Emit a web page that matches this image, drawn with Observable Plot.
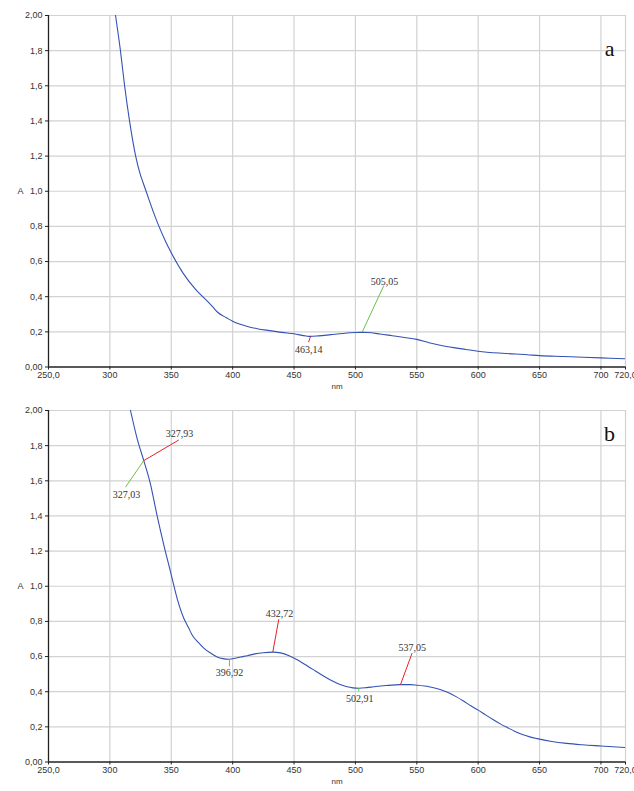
<!DOCTYPE html>
<html><head><meta charset="utf-8">
<script src="https://cdn.jsdelivr.net/npm/d3@7"></script>
<script src="https://cdn.jsdelivr.net/npm/@observablehq/plot@0.6"></script>
<style>body{margin:0;background:#fff;overflow:hidden} #chart svg{display:block}</style>
</head><body><div id="chart"></div>
<script>
// Tick values and labels
const xTicks = [250, 300, 350, 400, 450, 500, 550, 600, 650, 700, 720];
const xTickLabels = ["250,0", "300", "350", "400", "450", "500", "550", "600", "650", "700", "720,0"];
const yTicks = [0, 0.2, 0.4, 0.6, 0.8, 1.0, 1.2, 1.4, 1.6, 1.8, 2.0];
const yTickLabels = ["0,00", "0,2", "0,4", "0,6", "0,8", "1,0", "1,2", "1,4", "1,6", "1,8", "2,00"];

// Panel a spectrum
const aNm = [304.6, 308.6, 312, 316, 321, 325, 327, 330, 335, 340, 345, 350, 360, 370, 380, 384, 388, 395, 400, 410, 420, 430, 440, 450, 460, 463, 470, 480, 490, 500, 505, 510, 520, 530, 540, 550, 560, 570, 580, 590, 600, 620, 640, 650, 670, 700, 720];
const aA  = [2.00, 1.80, 1.60, 1.40, 1.20, 1.09, 1.05, 0.99, 0.89, 0.80, 0.72, 0.65, 0.53, 0.44, 0.37, 0.34, 0.31, 0.28, 0.26, 0.235, 0.218, 0.207, 0.197, 0.189, 0.176, 0.174, 0.177, 0.184, 0.191, 0.196, 0.197, 0.196, 0.188, 0.178, 0.168, 0.157, 0.138, 0.122, 0.11, 0.10, 0.09, 0.078, 0.07, 0.065, 0.06, 0.052, 0.047];

// Panel b spectrum
const bNm = [316.8, 322.2, 327.6, 333, 338.5, 344, 349.4, 354.8, 360.2, 364, 367, 372, 376.5, 382, 387.4, 392, 397, 402, 406.4, 412, 418, 425, 432.7, 439, 446, 452.6, 460, 466, 473, 479.7, 487, 493.3, 498, 502.8, 509, 515, 525, 536.7, 545, 550, 560, 569, 575, 582, 588, 594, 600, 606, 612, 618, 624, 630, 636, 642, 648, 660, 672, 685, 700, 720];
const bA  = [2.00, 1.84, 1.715, 1.583, 1.40, 1.233, 1.082, 0.93, 0.818, 0.765, 0.723, 0.68, 0.648, 0.62, 0.597, 0.588, 0.585, 0.59, 0.597, 0.605, 0.615, 0.622, 0.625, 0.621, 0.605, 0.582, 0.55, 0.524, 0.494, 0.467, 0.443, 0.428, 0.422, 0.42, 0.423, 0.428, 0.435, 0.44, 0.44, 0.437, 0.428, 0.412, 0.397, 0.372, 0.347, 0.32, 0.295, 0.268, 0.242, 0.217, 0.195, 0.174, 0.156, 0.143, 0.133, 0.117, 0.106, 0.098, 0.091, 0.082];

// Annotations panel a
const aLabels = ["463,14", "505,05"];
const aColors = ["#e8202a", "#6cc04a"];
const aPx = [463.4, 505.5], aPy = [0.173, 0.198];
const aEx = [461.8, 523.1], aEy = [0.141, 0.463];
const aTx = [462, 523.7],   aTy = [0.098, 0.4875];

// Annotations panel b
const bLabels = ["327,93", "327,03", "396,92", "432,72", "502,91", "537,05"];
const bColors = ["#e8202a", "#6cc04a", "#6cc04a", "#e8202a", "#6cc04a", "#e8202a"];
const bPx = [327.6, 327.6, 397.4, 432.7, 502.7, 536.7], bPy = [1.715, 1.715, 0.586, 0.625, 0.4215, 0.44];
const bEx = [356.1, 312.7, 397.4, 437.6, 502.7, 546.2], bEy = [1.832, 1.564, 0.544, 0.8125, 0.402, 0.62];
const bTx = [356.7, 313.5, 397.4, 438.2, 503.6, 546.2], bTy = [1.866, 1.522, 0.507, 0.842, 0.361, 0.652];

const letters = ["a", "b"];
const letterX = [707, 707];
const letterY = [1.808, 1.868];

function zipAnn(L, C, px, py, ex, ey, tx, ty) {
  return L.map((l, i) => ({label: l, color: C[i], px: px[i], py: py[i], ex: ex[i], ey: ey[i], tx: tx[i], ty: ty[i]}));
}

const SERIF = "Liberation Serif, Times New Roman, serif";

function panel(nm, A, ann, idx) {
  const curve = nm.map((x, i) => ({x, y: A[i]}));
  return Plot.plot({
    width: 634, height: 395,
    marginTop: 15, marginBottom: 28.5, marginLeft: 48, marginRight: 9,
    x: {domain: [250, 720]},
    y: {domain: [0, 2]},
    style: {background: "white", fontFamily: "'Liberation Sans', Arial, sans-serif", fontSize: "9px", color: "#333"},
    marks: [
      Plot.gridX(xTicks.slice(1), {stroke: "#d2d2d2", strokeOpacity: 1, strokeWidth: 1.2}),
      Plot.gridY(yTicks.slice(1), {stroke: "#d2d2d2", strokeOpacity: 1, strokeWidth: 1.2}),
      Plot.axisX(xTicks, {tickFormat: d => xTickLabels[xTicks.indexOf(d)], tickSize: 3, tickPadding: 2, label: null, stroke: "#222"}),
      Plot.axisY(yTicks, {tickFormat: d => yTickLabels[yTicks.indexOf(d)], tickSize: 3, tickPadding: 3, label: null, stroke: "#222"}),
      Plot.ruleX([250], {stroke: "#222", strokeWidth: 1.3}),
      Plot.ruleY([0], {stroke: "#222", strokeWidth: 1.3}),
      Plot.line(curve, {x: "x", y: "y", stroke: "#3352b3", strokeWidth: 1.1, curve: "monotone-x", clip: true}),
      Plot.link(ann, {x1: "px", y1: "py", x2: "ex", y2: "ey", stroke: "color", strokeWidth: 1}),
      Plot.text(ann, {x: "tx", y: "ty", text: "label", fontFamily: SERIF, fontSize: 10, fill: "#333"}),
      Plot.text([letters[idx]], {x: letterX[idx], y: letterY[idx], text: d => d, fontFamily: SERIF, fontSize: 22, fill: "#111"}),
      Plot.text(["A"], {frameAnchor: "left", dx: -31, text: d => d, fontSize: 9, fill: "#333"}),
      Plot.text(["nm"], {frameAnchor: "bottom", dy: 22, text: d => d, fontSize: 8, fill: "#333"})
    ]
  });
}

const chart = document.getElementById("chart");
chart.appendChild(panel(aNm, aA, zipAnn(aLabels, aColors, aPx, aPy, aEx, aEy, aTx, aTy), 0));
chart.appendChild(panel(bNm, bA, zipAnn(bLabels, bColors, bPx, bPy, bEx, bEy, bTx, bTy), 1));
</script>
</body></html>
